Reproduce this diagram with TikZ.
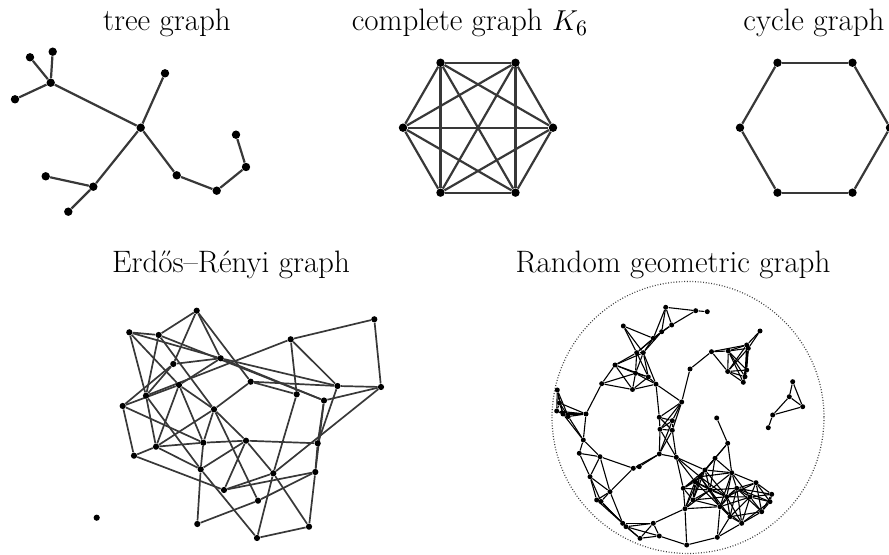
\documentclass[tikz,border=0pt]{standalone}
\usetikzlibrary{backgrounds,calc}
\tikzset{
  tdot/.style={circle, fill=black, inner sep=0pt, minimum size=4.2pt},
  edot/.style={circle, fill=black, inner sep=0pt, minimum size=3.1pt},
  rdot/.style={circle, fill=black, inner sep=0pt, minimum size=2.5pt},
  tedge/.style={line width=1.1pt, black!78},
  eedge/.style={line width=0.85pt, black!78},
  redge/.style={line width=0.55pt, black},
  ttl/.style={anchor=base, inner sep=0pt, font=\fontsize{15.5}{18}\selectfont}
}
\def\rgglist{557.3/390, 559.5/403, 556.7/411, 563/414, 568.3/416.5, 586/414, 583.3/440, 579.3/453.3, 600/456.7, 590/476.7, 610/491.7, 596.7/500, 601/501.5,
665.7/307.3, 695.7/310.7, 707.3/311.7, 671.7/325, 661.7/331.7, 653.3/338.3, 623.3/326, 636.7/352.7, 643.3/352.7, 615/365, 635.5/373.3, 648.3/377, 632.5/389.5, 656/384.2, 601.7/383.7,
659.3/417.3, 672.3/420.7, 660/429.3, 672.3/430.3, 681.7/402, 690/369, 711.5/351.7, 728.3/351, 727.7/371.5, 746.7/345, 748.3/348.3, 760/331, 743.3/382.3, 746.7/370, 745/376.7, 716.7/418, 727.7/443.3, 715/458.3,
792.7/381.7, 789.3/396.7, 802.7/406.7, 772.7/415, 768.3/427.7,
659.3/454, 676.3/457.3, 633.3/468.3, 639.3/466.7, 683.3/488.3, 685/508.7, 622.7/523.3, 626/526.7, 653.3/523.3, 640/538.3, 659.3/536, 686.7/545, 731.7/472.7, 700/476.7, 695/481.7, 756/482.7, 771.7/494.3, 770/501.7, 741.7/523.3, 761.7/511.7, 720/506.7, 726.7/496.7, 717.3/537.3, 693/500, 710/490, 736.7/488.3, 750/497, 730/516.7, 705/470}
\begin{document}
\begin{tikzpicture}[x=0.5pt, y=-0.5pt]
\useasboundingbox (0,0) rectangle (889,555);
\clip (0,0) rectangle (889,555);

% titles
\node[ttl] (ttree) at (167,31) {tree graph};
\node[ttl] (tcomp) at (470,31) {complete graph $K_6$};
\node[ttl] (tcyc) at (814,31) {cycle graph};
\node[ttl] (ter) at (231,273) {Erd\H{o}s--R\'enyi graph};
\node[ttl] (trgg) at (673,273) {Random geometric graph};

% tree graph
\node[tdot] (t1) at (30,57.3) {};
\node[tdot] (t2) at (52.7,51.7) {};
\node[tdot] (t3) at (50.7,82.7) {};
\node[tdot] (t4) at (15,99.3) {};
\node[tdot] (t5) at (165,73.3) {};
\node[tdot] (t6) at (140.7,127.7) {};
\node[tdot] (t7) at (236,134.7) {};
\node[tdot] (t8) at (246,167) {};
\node[tdot] (t9) at (176.7,175.3) {};
\node[tdot] (t10) at (216.7,190.7) {};
\node[tdot] (t11) at (45.7,176.3) {};
\node[tdot] (t12) at (93.3,186.7) {};
\node[tdot] (t13) at (68.3,211.7) {};
\begin{pgfonlayer}{background}
\foreach \a/\b in {t1/t3, t2/t3, t4/t3, t3/t6, t5/t6, t6/t12, t6/t9, t9/t10, t10/t8, t8/t7, t11/t12, t12/t13}
  {\draw[tedge] (\a) -- (\b);}
\end{pgfonlayer}

% complete graph
\foreach \k in {1,...,6}
  {\node[tdot] (k\k) at ($(478,127.7)+(\k*60:75)$) {};}
\begin{pgfonlayer}{background}
\foreach \a in {1,...,6} {
  \foreach \b in {1,...,6} {
    \ifnum\b>\a\relax \draw[tedge] (k\a) -- (k\b); \fi
  }
}
\end{pgfonlayer}

% cycle graph
\foreach \k in {1,...,6}
  {\node[tdot] (c\k) at ($(815,127.7)+(\k*60:75)$) {};}
\begin{pgfonlayer}{background}
\foreach \a/\b in {1/2,2/3,3/4,4/5,5/6,6/1}
  {\draw[tedge] (c\a) -- (c\b);}
\end{pgfonlayer}

% Erdos-Renyi graph
\foreach \x/\y [count=\i] in {196.7/310.7, 129.3/332.3, 158.7/335, 220.7/358.3, 173.3/364, 179/385, 146/395.7, 122.7/406, 214/409.3, 250.7/381.7, 290.7/339.3, 374.3/319.3, 337.5/386, 381/387, 296.7/394.3, 324/400.5, 134/455.7, 156/446.7, 203.3/442.7, 246/440.7, 200.7/469.3, 224/490, 258/500.7, 197.3/524, 257/538, 96.7/517.7, 317.7/443.3, 273.3/473.3, 315.3/472, 309/526.7}
  {\node[edot] (e\i) at (\x,\y) {};}
\begin{pgfonlayer}{background}
\foreach \a/\b in {1/3, 1/5, 1/4, 1/10, 2/3, 2/7, 2/6, 2/4, 3/16, 3/7, 3/9, 4/5, 4/6, 4/16, 4/13, 5/7, 5/8, 6/8, 6/9, 6/19, 7/18, 8/17, 8/19, 7/21, 9/18, 9/20, 9/23, 10/13, 10/15, 10/9, 11/12, 11/13, 11/15, 11/7, 12/14, 13/14, 13/27, 14/16, 14/28, 15/28, 16/29, 16/27, 27/29, 20/27, 20/28, 28/30, 29/30, 30/25, 28/25, 29/23, 22/28, 20/21, 19/20, 18/19, 17/18, 17/22, 18/21, 19/21, 21/24, 24/23, 21/25, 22/20, 22/29, 18/6, 9/19}
  {\draw[eedge] (e\a) -- (e\b);}
\end{pgfonlayer}

% random geometric graph
\draw[dash pattern=on 0.45pt off 0.9pt, line width=0.6pt, black!75] (688,417.5) circle (136);
\foreach \xa/\ya [count=\i] in \rgglist
  {\node[rdot] (r\i) at (\xa,\ya) {};}
\begin{pgfonlayer}{background}
\foreach \xa/\ya [count=\i] in \rgglist {
  \foreach \xb/\yb [count=\j] in \rgglist {
    \ifnum\j>\i\relax
      \pgfmathsetmacro\ddx{abs(\xa-\xb)}
      \pgfmathsetmacro\ddy{abs(\ya-\yb)}
      \ifdim\ddx pt<36.5pt
        \ifdim\ddy pt<36.5pt
          \pgfmathsetmacro\dd{\ddx*\ddx+\ddy*\ddy}
          \ifdim\dd pt<1332pt
            \draw[redge] (r\i) -- (r\j);
          \fi
        \fi
      \fi
    \fi
  }
}
\end{pgfonlayer}
\end{tikzpicture}
\end{document}
